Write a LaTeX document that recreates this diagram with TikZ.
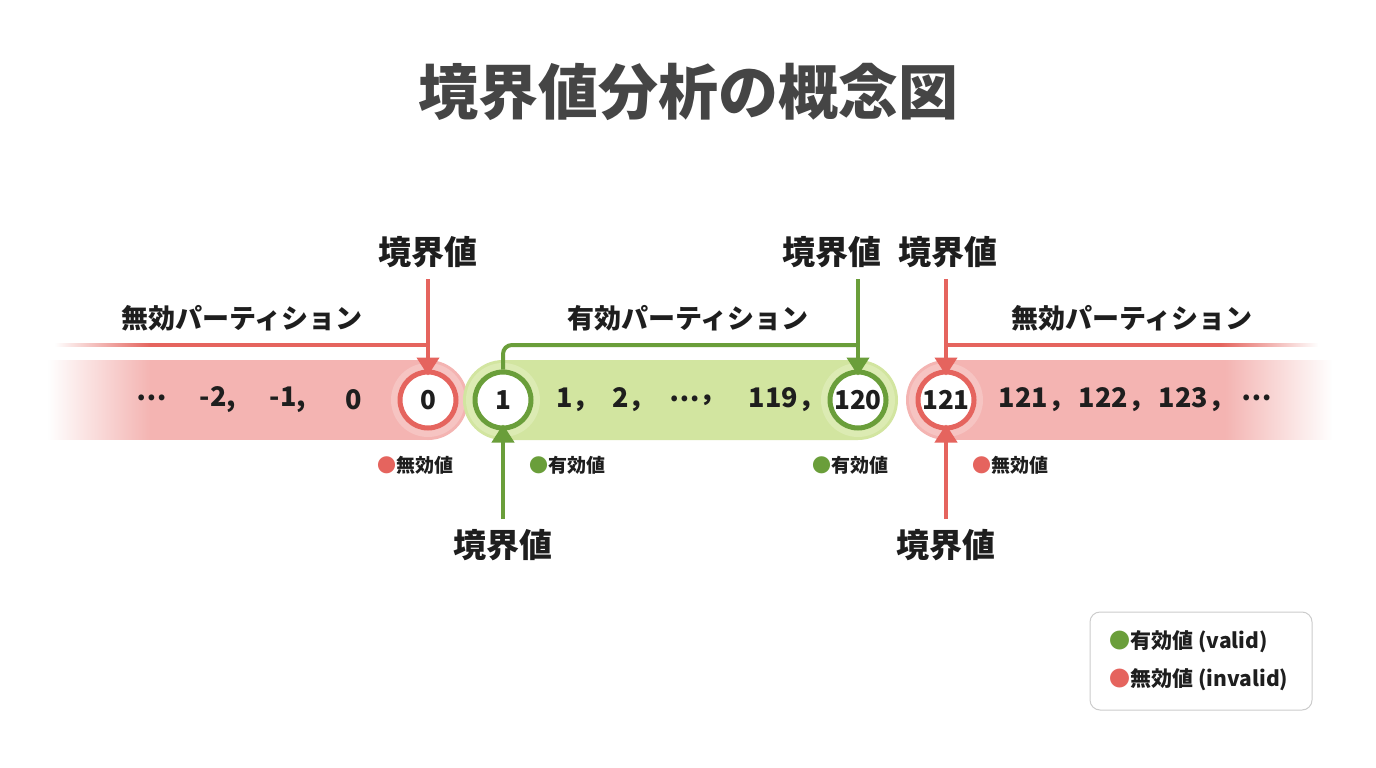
\documentclass[tikz,border=0pt]{standalone}
\usepackage{fontspec}
\setmainfont{Noto Sans CJK JP}
\usetikzlibrary{arrows.meta,fadings}
\definecolor{redline}{HTML}{E5645E}
\definecolor{redband}{HTML}{F4B4B2}
\definecolor{redhalo}{HTML}{F6C4C2}
\definecolor{grnline}{HTML}{6A9E3A}
\definecolor{grnband}{HTML}{D2E5A0}
\definecolor{grnhalo}{HTML}{DCEBB3}
\definecolor{titlegray}{HTML}{454545}
\definecolor{txt}{HTML}{1E1E1E}
\begin{document}
\begin{tikzpicture}[x=1pt,y=-1pt,
  fs/.style={font=\bfseries\fontsize{#1}{#1}\selectfont},
  rcirc/.style={circle,draw=redline,line width=5pt,fill=white,minimum size=56pt,inner sep=0pt,fs=26,text=txt},
  gcirc/.style={circle,draw=grnline,line width=5pt,fill=white,minimum size=56pt,inner sep=0pt,fs=26,text=txt},
  bvlab/.style={fs=33,text=txt,inner sep=2pt},
  partlab/.style={fs=27,text=txt},
  numlab/.style={fs=27,text=txt},
  small/.style={fs=19,text=txt},
  legtxt/.style={fs=21,text=txt},
  arr/.style={line width=4pt,-{Triangle[width=22pt,length=18pt]}},
  hline/.style={line width=4pt}
]
\useasboundingbox (0,0) rectangle (1376,768);
\fill[white] (0,0) rectangle (1376,768);

% title
\node[fs=60,text=titlegray] (title) at (688,92) {境界値分析の概念図};

% bands
\fill[redband] (150,360) rectangle (428,440);
\fill[redband] (428,400) circle (40);
\fill[redband,path fading=west] (48,360) rectangle (150.5,440);
\fill[redhalo] (428,400) circle (37);

\fill[grnband,rounded corners=40pt] (463,360) rectangle (898,440);
\fill[grnhalo] (503,400) circle (37);
\fill[grnhalo] (858,400) circle (37);

\fill[redband] (946,400) circle (40);
\fill[redband] (946,360) rectangle (1225,440);
\fill[redband,path fading=east] (1224.5,360) rectangle (1332,440);
\fill[redhalo] (946,400) circle (37);

% circles
\node[rcirc] (c0) at (428,400) {0};
\node[gcirc] (c1) at (503,400) {1};
\node[gcirc] (c120) at (858,400) {120};
\node[rcirc] (c121) at (946,400) {121};

% numbers
\node[numlab] (nl0) at (152,398) {⋯};
\node[numlab] (nl1) at (218,400) {-2,};
\node[numlab] (nl2) at (288,400) {-1,};
\node[numlab] (nl3) at (354,400) {0};
\node[numlab] (nm1) at (578,400) {1，};
\node[numlab] (nm2) at (634,400) {2，};
\node[numlab] (nm3) at (698,400) {⋯，};
\node[numlab] (nm4) at (787,400) {119，};
\node[numlab] (nr1) at (1037,400) {121，};
\node[numlab] (nr2) at (1117,400) {122，};
\node[numlab] (nr3) at (1197,400) {123，};
\node[numlab] (nr4) at (1257,398) {⋯};

% partition labels
\node[partlab] (pl) at (242,318) {無効パーティション};
\node[partlab] (pm) at (688,318) {有効パーティション};
\node[partlab] (pr) at (1132,318) {無効パーティション};

% top boundary labels
\node[bvlab] (b0) at (428,252) {境界値};
\node[bvlab] (b120) at (832,252) {境界値};
\node[bvlab] (b121) at (948,252) {境界値};
\coordinate (b0s) at (428,279);
\coordinate (b120s) at (858,279);
\coordinate (b121s) at (946,279);

% left partition line
\coordinate (lfade) at (150,345);
\coordinate (ljoin) at (428,345);
\draw[redline,hline] (lfade) -- (ljoin);
\fill[redline,path fading=west] (55,343) rectangle (150.5,347);

% right partition line
\coordinate (rjoin) at (946,345);
\coordinate (rfade) at (1220,345);
\draw[redline,hline] (rjoin) -- (rfade);
\fill[redline,path fading=east] (1219.5,343) rectangle (1318,347);

% green bracket
\coordinate (gjoin) at (858,345);
\draw[grnline,hline,rounded corners=9pt] (c1.north) |- (gjoin);

% top arrows
\draw[arr,redline,shorten >=-6pt] (b0s) -- (c0.north);
\draw[arr,grnline,shorten >=-6pt] (b120s) -- (c120.north);
\draw[arr,redline,shorten >=-6pt] (b121s) -- (c121.north);

% bottom boundary labels and arrows
\node[bvlab] (b1) at (503,545) {境界値};
\node[bvlab] (b121b) at (946,545) {境界値};
\draw[arr,grnline,shorten <=8pt,shorten >=-6pt] (b1.north) -- (c1.south);
\draw[arr,redline,shorten <=8pt,shorten >=-6pt] (b121b.north) -- (c121.south);

% small labels
\node[small] (s0) at (415,465) {{\color{redline}●}無効値};
\node[small] (s1) at (567,465) {{\color{grnline}●}有効値};
\node[small] (s120) at (850,465) {{\color{grnline}●}有効値};
\node[small] (s121) at (1010,465) {{\color{redline}●}無効値};

% legend
\node[draw=black!20,line width=1pt,rounded corners=10pt,minimum width=222pt,minimum height=98pt] (leg) at (1201,661) {};
\node[legtxt,anchor=west] (lv) at (1106,642) {{\color{grnline}●}有効値 (valid)};
\node[legtxt,anchor=west] (li) at (1106,680) {{\color{redline}●}無効値 (invalid)};
\end{tikzpicture}
\end{document}
